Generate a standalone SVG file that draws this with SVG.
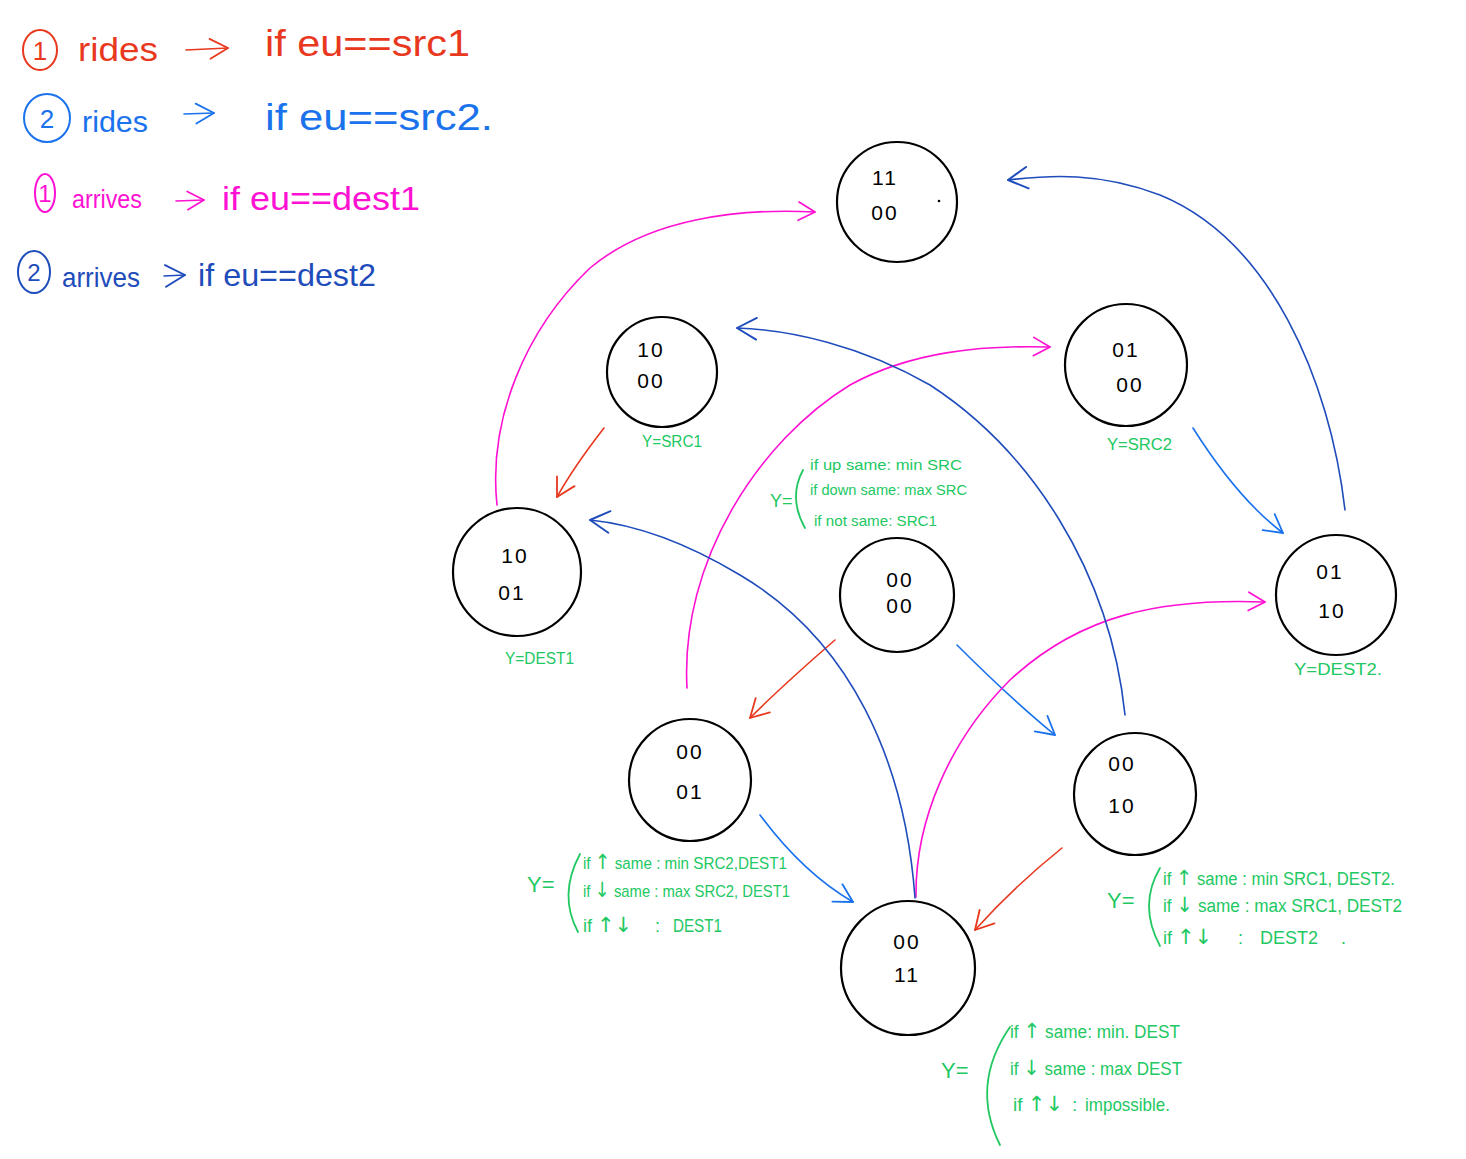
<svg xmlns="http://www.w3.org/2000/svg" width="1466" height="1159" viewBox="0 0 1466 1159">
  <style>
    .bg { fill: #ffffff; }
    .node { fill: #ffffff; stroke: #000000; stroke-width: 2.2; }
    .bits { font-family: "Liberation Sans", "DejaVu Sans", sans-serif; font-size: 21px; fill: #000000; text-anchor: middle; letter-spacing: 2px; }
    .lbl { font-family: "Liberation Sans", "DejaVu Sans", sans-serif; fill: #22c862; }
    .arw { font-family: "DejaVu Sans", sans-serif; font-size: 21px; }
    .paren { fill: none; stroke: #22c862; stroke-width: 1.8; stroke-linecap: round; }
    .leg { font-family: "Liberation Sans", "DejaVu Sans", sans-serif; }
    .edge { fill: none; stroke-width: 1.6; stroke-linecap: round; }
    .red { stroke: #e8381e; }
    .blue { stroke: #1a72ec; }
    .mag { stroke: #ff10d2; }
    .navy { stroke: #1f4cbb; }
    .ring { fill: none; stroke-width: 2; }
  </style>
  <defs>
    <marker id="ah-red" viewBox="0 0 24 24" refX="21" refY="12" markerWidth="24" markerHeight="24" markerUnits="userSpaceOnUse" orient="auto">
      <path d="M3,2 L21,12 L3,22" fill="none" stroke="#e8381e" stroke-width="1.8" stroke-linecap="round" stroke-linejoin="round"/>
    </marker>
    <marker id="ah-blue" viewBox="0 0 24 24" refX="21" refY="12" markerWidth="24" markerHeight="24" markerUnits="userSpaceOnUse" orient="auto">
      <path d="M3,2 L21,12 L3,22" fill="none" stroke="#1a72ec" stroke-width="1.8" stroke-linecap="round" stroke-linejoin="round"/>
    </marker>
    <marker id="ah-mag" viewBox="0 0 24 24" refX="21" refY="12" markerWidth="22" markerHeight="22" markerUnits="userSpaceOnUse" orient="auto">
      <path d="M3,2 L21,12 L3,22" fill="none" stroke="#ff10d2" stroke-width="1.8" stroke-linecap="round" stroke-linejoin="round"/>
    </marker>
    <marker id="ah-navy" viewBox="0 0 24 24" refX="21" refY="12" markerWidth="26" markerHeight="26" markerUnits="userSpaceOnUse" orient="auto">
      <path d="M3,2 L21,12 L3,22" fill="none" stroke="#1f4cbb" stroke-width="1.8" stroke-linecap="round" stroke-linejoin="round"/>
    </marker>
  </defs>

  <rect class="bg" x="0" y="0" width="1466" height="1159"/>

  <!-- legend -->
  <g id="legend">
    <g id="legend-ride1" class="leg" fill="#e8381e">
      <ellipse class="ring" stroke="#e8381e" cx="40" cy="50" rx="17" ry="20"/>
      <text x="40" y="60" font-size="26" text-anchor="middle">1</text>
      <text x="78" y="61" font-size="34" textLength="80" lengthAdjust="spacingAndGlyphs">rides</text>
      <path class="edge red" d="M186,50 L228,48" marker-end="url(#ah-red)"/>
      <text x="265" y="56" font-size="36" textLength="205" lengthAdjust="spacingAndGlyphs">if eu==src1</text>
    </g>
    <g id="legend-ride2" class="leg" fill="#1a72ec">
      <ellipse class="ring" stroke="#1a72ec" cx="47" cy="118" rx="23" ry="24"/>
      <text x="47" y="128" font-size="26" text-anchor="middle">2</text>
      <text x="82" y="132" font-size="30" textLength="66" lengthAdjust="spacingAndGlyphs">rides</text>
      <path class="edge blue" d="M184,114 L214,113" marker-end="url(#ah-blue)"/>
      <text x="265" y="130" font-size="36" textLength="228" lengthAdjust="spacingAndGlyphs">if eu==src2.</text>
    </g>
    <g id="legend-arrive1" class="leg" fill="#ff10d2">
      <ellipse class="ring" stroke="#ff10d2" cx="45" cy="193" rx="10" ry="19"/>
      <text x="45" y="202" font-size="24" text-anchor="middle">1</text>
      <text x="72" y="208" font-size="26" textLength="70" lengthAdjust="spacingAndGlyphs">arrives</text>
      <path class="edge mag" d="M176,201 L204,200" marker-end="url(#ah-mag)"/>
      <text x="222" y="210" font-size="34" textLength="198" lengthAdjust="spacingAndGlyphs">if eu==dest1</text>
    </g>
    <g id="legend-arrive2" class="leg" fill="#1f4cbb">
      <ellipse class="ring" stroke="#1f4cbb" cx="34" cy="272" rx="16" ry="21"/>
      <text x="34" y="281" font-size="24" text-anchor="middle">2</text>
      <text x="62" y="287" font-size="28" textLength="78" lengthAdjust="spacingAndGlyphs">arrives</text>
      <path class="edge navy" d="M164,276 L185,275" marker-end="url(#ah-navy)"/>
      <text x="198" y="286" font-size="32" textLength="178" lengthAdjust="spacingAndGlyphs">if eu==dest2</text>
    </g>
  </g>

  <!-- connectors -->
  <g id="connectors">
    <!-- red: rider 1 boards -->
    <path class="edge red" d="M604,428 C 590,446 572,470 557,497" marker-end="url(#ah-red)"/>
    <path class="edge red" d="M835,640 C 805,666 778,690 750,718" marker-end="url(#ah-red)"/>
    <path class="edge red" d="M1062,848 C 1032,872 1002,900 975,930" marker-end="url(#ah-red)"/>
    <!-- bright blue: rider 2 boards -->
    <path class="edge blue" d="M1193,428 C 1217,466 1246,505 1283,533" marker-end="url(#ah-blue)"/>
    <path class="edge blue" d="M957,645 C 990,678 1022,708 1055,735" marker-end="url(#ah-blue)"/>
    <path class="edge blue" d="M760,815 C 786,850 815,880 853,902" marker-end="url(#ah-blue)"/>
    <!-- magenta: rider 1 arrives -->
    <path class="edge mag" d="M497,505 C 488,420 525,330 590,268 C 650,218 740,208 815,212" marker-end="url(#ah-mag)"/>
    <path class="edge mag" d="M687,688 C 680,560 760,440 850,385 C 910,352 980,345 1050,347" marker-end="url(#ah-mag)"/>
    <path class="edge mag" d="M916,897 C 915,820 950,740 1010,680 C 1080,615 1160,598 1265,602" marker-end="url(#ah-mag)"/>
    <!-- navy: rider 2 arrives -->
    <path class="edge navy" d="M1345,510 C 1330,380 1270,240 1160,195 C 1100,172 1050,175 1008,180" marker-end="url(#ah-navy)"/>
    <path class="edge navy" d="M1125,715 C 1110,570 1030,450 930,385 C 860,345 790,330 737,328" marker-end="url(#ah-navy)"/>
    <path class="edge navy" d="M915,898 C 905,760 850,640 740,575 C 690,545 640,525 590,520" marker-end="url(#ah-navy)"/>
  </g>

  <!-- states -->
  <g id="s-11-00">
    <circle class="node" cx="897" cy="202" r="60"/>
    <text class="bits" x="885" y="185">11</text>
    <text class="bits" x="885" y="220">00</text>
    <circle cx="939" cy="201" r="1.3" fill="#000"/>
  </g>
  <g id="s-10-00">
    <circle class="node" cx="662" cy="372" r="55"/>
    <text class="bits" x="651" y="357">10</text>
    <text class="bits" x="651" y="388">00</text>
  </g>
  <g id="s-01-00">
    <circle class="node" cx="1126" cy="365" r="61"/>
    <text class="bits" x="1126" y="357">01</text>
    <text class="bits" x="1130" y="392">00</text>
  </g>
  <g id="s-10-01">
    <circle class="node" cx="517" cy="572" r="64"/>
    <text class="bits" x="515" y="563">10</text>
    <text class="bits" x="512" y="600">01</text>
  </g>
  <g id="s-00-00">
    <circle class="node" cx="897" cy="595" r="57"/>
    <text class="bits" x="900" y="587">00</text>
    <text class="bits" x="900" y="613">00</text>
  </g>
  <g id="s-01-10">
    <circle class="node" cx="1336" cy="595" r="60"/>
    <text class="bits" x="1330" y="579">01</text>
    <text class="bits" x="1332" y="618">10</text>
  </g>
  <g id="s-00-01">
    <circle class="node" cx="690" cy="780" r="61"/>
    <text class="bits" x="690" y="759">00</text>
    <text class="bits" x="690" y="799">01</text>
  </g>
  <g id="s-00-10">
    <circle class="node" cx="1135" cy="794" r="61"/>
    <text class="bits" x="1122" y="771">00</text>
    <text class="bits" x="1122" y="813">10</text>
  </g>
  <g id="s-00-11">
    <circle class="node" cx="908" cy="968" r="67"/>
    <text class="bits" x="907" y="949">00</text>
    <text class="bits" x="907" y="982">11</text>
  </g>

  <!-- output rules -->
  <g id="y-labels" class="lbl">
    <text x="642" y="447" font-size="16" textLength="60" lengthAdjust="spacingAndGlyphs">Y=SRC1</text>
    <text x="1107" y="450" font-size="16" textLength="65" lengthAdjust="spacingAndGlyphs">Y=SRC2</text>
    <text x="505" y="664" font-size="16" textLength="69" lengthAdjust="spacingAndGlyphs">Y=DEST1</text>
    <text x="1294" y="675" font-size="16" textLength="88" lengthAdjust="spacingAndGlyphs">Y=DEST2.</text>
  </g>
  <g id="rule-idle" class="lbl">
    <text x="770" y="507" font-size="18">Y=</text>
    <path class="paren" d="M803,470 Q 788,498 805,528"/>
    <text x="810" y="470" font-size="14" textLength="152" lengthAdjust="spacingAndGlyphs">if up same: min SRC</text>
    <text x="810" y="495" font-size="14" textLength="157" lengthAdjust="spacingAndGlyphs">if down same: max SRC</text>
    <text x="814" y="526" font-size="14" textLength="123" lengthAdjust="spacingAndGlyphs">if not same: SRC1</text>
  </g>
  <g id="rule-rider1" class="lbl">
    <text x="527" y="892" font-size="22">Y=</text>
    <path class="paren" d="M580,854 Q 558,895 578,932"/>
    <text x="583" y="869" font-size="17" textLength="204" lengthAdjust="spacingAndGlyphs">if <tspan class="arw" font-size="18">↑</tspan> same : min SRC2,DEST1</text>
    <text x="583" y="897" font-size="17" textLength="207" lengthAdjust="spacingAndGlyphs">if <tspan class="arw" font-size="18">↓</tspan> same : max SRC2, DEST1</text>
    <text x="583" y="932" font-size="18">if <tspan class="arw">↑↓</tspan></text>
    <text x="655" y="932" font-size="18">:</text>
    <text x="673" y="932" font-size="18" textLength="49" lengthAdjust="spacingAndGlyphs">DEST1</text>
  </g>
  <g id="rule-rider2" class="lbl">
    <text x="1107" y="908" font-size="22">Y=</text>
    <path class="paren" d="M1160,868 Q 1138,905 1160,946"/>
    <text x="1163" y="885" font-size="18" textLength="232" lengthAdjust="spacingAndGlyphs">if <tspan class="arw" font-size="19">↑</tspan> same : min SRC1, DEST2.</text>
    <text x="1163" y="912" font-size="18" textLength="239" lengthAdjust="spacingAndGlyphs">if <tspan class="arw" font-size="19">↓</tspan> same : max SRC1, DEST2</text>
    <text x="1163" y="944" font-size="18">if <tspan class="arw">↑↓</tspan></text>
    <text x="1238" y="944" font-size="18">:</text>
    <text x="1260" y="944" font-size="18" textLength="58" lengthAdjust="spacingAndGlyphs">DEST2</text>
    <text x="1341" y="944" font-size="18">.</text>
  </g>
  <g id="rule-both" class="lbl">
    <text x="941" y="1078" font-size="22">Y=</text>
    <path class="paren" d="M1010,1027 Q 970,1085 1000,1145"/>
    <text x="1010" y="1038" font-size="18" textLength="170" lengthAdjust="spacingAndGlyphs">if <tspan class="arw" font-size="19">↑</tspan> same: min. DEST</text>
    <text x="1010" y="1075" font-size="18" textLength="172" lengthAdjust="spacingAndGlyphs">if <tspan class="arw" font-size="19">↓</tspan> same : max DEST</text>
    <text x="1013" y="1111" font-size="19">if <tspan class="arw">↑↓</tspan></text>
    <text x="1072" y="1111" font-size="19">:</text>
    <text x="1085" y="1111" font-size="19" textLength="85" lengthAdjust="spacingAndGlyphs">impossible.</text>
  </g>
</svg>
